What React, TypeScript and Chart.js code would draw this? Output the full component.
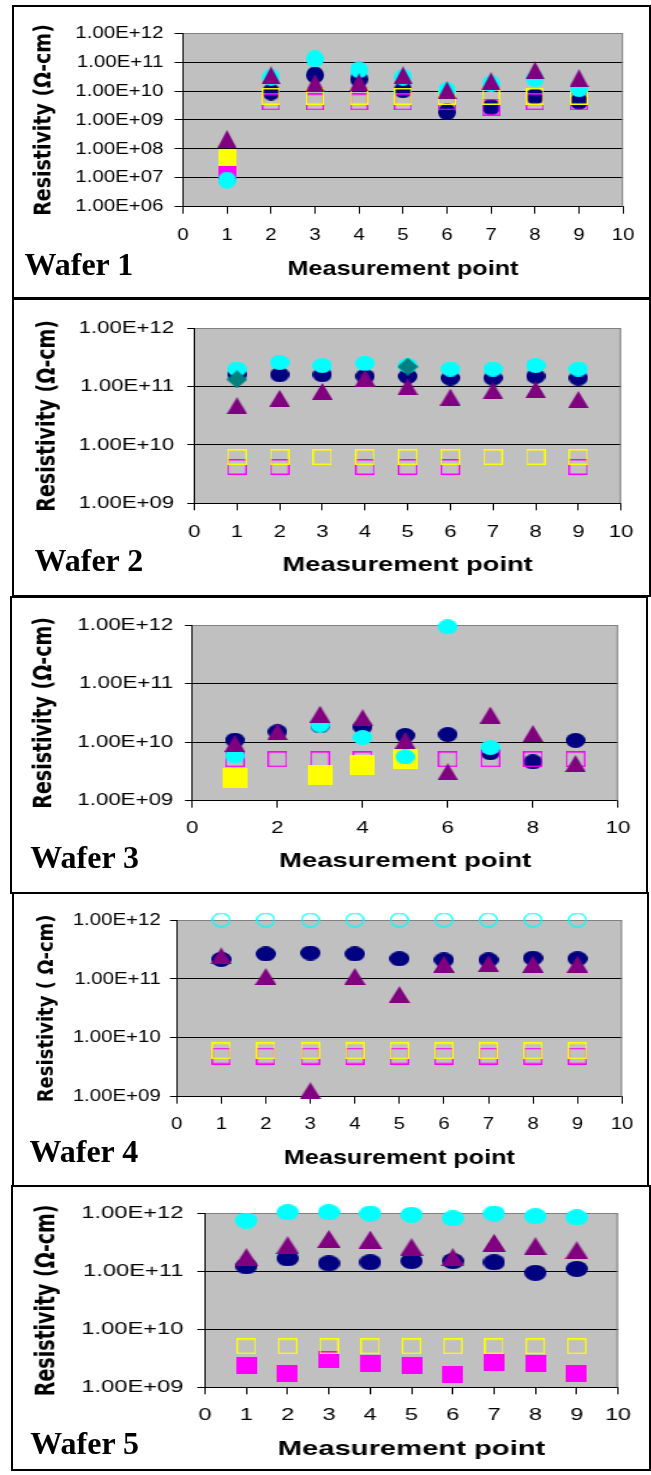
import React, { useEffect, useRef } from 'react';
import { Chart, registerables } from 'chart.js';

Chart.register(...registerables);

const PAGE_W = 651;
const PAGE_H = 1475;

// ---------- categories / ticks / texts ----------
const MEASUREMENT_POINTS = [1, 2, 3, 4, 5, 6, 7, 8, 9];
const X_TICKS_BY_1 = [0, 1, 2, 3, 4, 5, 6, 7, 8, 9, 10];
const X_TICKS_BY_2 = [0, 2, 4, 6, 8, 10];
const Y_TICKS_WAFER1 = [1e6, 1e7, 1e8, 1e9, 1e10, 1e11, 1e12];
const Y_TICKS_WAFER2_5 = [1e9, 1e10, 1e11, 1e12];
const X_TITLE = 'Measurement point';
const Y_TITLE = 'Resistivity (Ω-cm)';
const Y_TITLE_W4 = 'Resistivity ( Ω-cm)';

// ---------- Wafer 1 ----------
const W1_NAVY = [1.0e7, 9.3e9, 3.6e10, 2.6e10, 1.1e10, 1.9e9, 2.8e9, 6.5e9, 4.4e9];
const W1_MAGENTA = [1.9e7, 4.2e9, 4.2e9, 4.2e9, 4.2e9, 4.2e9, 2.8e9, 4.3e9, 4.2e9];
const W1_YELLOW = [4.9e7, 6.6e9, 6.6e9, 6.6e9, 6.6e9, 6.6e9, 6.6e9, 6.6e9, 6.6e9];
const W1_CYAN = [8.3e6, 3.0e10, 1.3e11, 5.4e10, 3.0e10, 1.05e10, 1.8e10, 2.7e10, 1.2e10];
const W1_PURPLE = [2.2e8, 3.5e10, 1.9e10, 2.0e10, 3.5e10, 1.07e10, 2.2e10, 5.2e10, 2.8e10];

// ---------- Wafer 2 ----------
const W2_NAVY = [1.6e11, 1.6e11, 1.6e11, 1.5e11, 1.5e11, 1.4e11, 1.4e11, 1.5e11, 1.4e11];
const W2_MAGENTA = [4.2e9, 4.2e9, null, 4.2e9, 4.2e9, 4.2e9, null, null, 4.2e9];
const W2_YELLOW = [6.2e9, 6.2e9, 6.2e9, 6.2e9, 6.2e9, 6.2e9, 6.2e9, 6.2e9, 6.2e9];
const W2_CYAN = [2.0e11, 2.6e11, 2.3e11, 2.5e11, 2.3e11, 2.0e11, 2.0e11, 2.3e11, 2.0e11];
const W2_PURPLE = [4.7e10, 6.3e10, 8.3e10, 1.4e11, 1.0e11, 6.6e10, 8.5e10, 8.9e10, 6.0e10];
const W2_TEAL = [1.33e11, null, null, null, 2.2e11, null, null, null, null];

// ---------- Wafer 3 ----------
const W3_NAVY = [1.08e10, 1.5e10, 1.9e10, 1.8e10, 1.3e10, 1.35e10, 6.6e9, 4.6e9, 1.07e10];
const W3_MAGENTA = [5.1e9, 5.1e9, 5.1e9, 5.1e9, 5.1e9, 5.1e9, 5.1e9, 5.1e9, 5.1e9];
const W3_YELLOW = [2.45e9, null, 2.8e9, 4.0e9, 5.2e9, null, null, null, null];
const W3_CYAN = [5.8e9, null, 1.95e10, 1.2e10, 5.6e9, 9.3e11, 8.1e9, null, null];
const W3_PURPLE = [9.5e9, 1.5e10, 3.0e10, 2.6e10, 1.07e10, 3.1e9, 2.9e10, 1.4e10, 4.3e9];

// ---------- Wafer 4 ----------
const W4_NAVY = [2.15e11, 2.65e11, 2.75e11, 2.65e11, 2.2e11, 2.1e11, 2.1e11, 2.25e11, 2.2e11];
const W4_MAGENTA = [4.9e9, 4.9e9, 4.9e9, 4.9e9, 4.9e9, 4.9e9, 4.9e9, 4.9e9, 4.9e9];
const W4_YELLOW = [6.0e9, 6.0e9, 6.0e9, 6.0e9, 6.0e9, 6.0e9, 6.0e9, 6.0e9, 6.0e9];
const W4_CYAN = [1e12, 1e12, 1e12, 1e12, 1e12, 1e12, 1e12, 1e12, 1e12];
const W4_PURPLE = [2.45e11, 1.1e11, 1.26e9, 1.1e11, 5.4e10, 1.77e11, 1.8e11, 1.77e11, 1.77e11];

// ---------- Wafer 5 ----------
const W5_NAVY = [1.22e11, 1.67e11, 1.37e11, 1.43e11, 1.5e11, 1.5e11, 1.43e11, 9.4e10, 1.1e11];
const W5_MAGENTA = [2.4e9, 1.73e9, 3.0e9, 2.6e9, 2.4e9, 1.66e9, 2.7e9, 2.6e9, 1.73e9];
const W5_YELLOW = [5.1e9, 5.1e9, 5.1e9, 5.1e9, 5.1e9, 5.1e9, 5.1e9, 5.1e9, 5.1e9];
const W5_CYAN = [7.5e11, 1.04e12, 1.04e12, 9.9e11, 9.4e11, 8.2e11, 9.9e11, 8.9e11, 8.5e11];
const W5_PURPLE = [1.75e11, 2.8e11, 3.6e11, 3.5e11, 2.6e11, 1.74e11, 3.1e11, 2.7e11, 2.3e11];

// ---------- styles ----------
const NAVY = '#000080';
const CYAN = '#00FFFF';
const PURPLE = '#800080';
const YELLOW = '#FFFF00';
const MAGENTA = '#FF00FF';
const TEAL = '#008080';
const SANS = "'Liberation Sans', Arial, sans-serif";

type Shape = 'circle' | 'ring' | 'triangle' | 'square' | 'box' | 'diamond';
type Series = { label: string; values: (number | null)[]; color: string; shape: Shape | Shape[]; w: number; h: number };
type Panel = {
  wafer: string; yTitle: string; yTitleSize: number; yTicks: number[]; xTicks: number[]; sx: number;
  box: { l: number; t: number; r: number; b: number };
  plot: { l: number; t: number; r: number; b: number };
  yTitleCx: number; yTickLen: number; yLabelRight: number; xLabelCy: number; xTitleCy: number;
  waferLeft: number; waferCy: number; series: Series[];
};

const FIRST_FILLED: Shape[] = ['square', 'box', 'box', 'box', 'box', 'box', 'box', 'box', 'box'];

const PANELS: Panel[] = [
  {
    wafer: 'Wafer 1', yTitle: Y_TITLE, yTitleSize: 19, yTicks: Y_TICKS_WAFER1, xTicks: X_TICKS_BY_1, sx: 1.2,
    box: { l: 12, t: 5, r: 651, b: 299 }, plot: { l: 183, t: 33.3, r: 623, b: 206.7 },
    yTitleCx: 45, yTickLen: 8.5, yLabelRight: 163.3, xLabelCy: 235, xTitleCy: 269, waferLeft: 24.5, waferCy: 264.5,
    series: [
      { label: 'navy', values: W1_NAVY, color: NAVY, shape: 'circle', w: 18, h: 16.5 },
      { label: 'magenta', values: W1_MAGENTA, color: MAGENTA, shape: FIRST_FILLED, w: 18, h: 16.5 },
      { label: 'yellow', values: W1_YELLOW, color: YELLOW, shape: FIRST_FILLED, w: 18, h: 16.5 },
      { label: 'cyan', values: W1_CYAN, color: CYAN, shape: 'circle', w: 18, h: 16.5 },
      { label: 'purple', values: W1_PURPLE, color: PURPLE, shape: 'triangle', w: 19, h: 17.5 },
    ],
  },
  {
    wafer: 'Wafer 2', yTitle: Y_TITLE, yTitleSize: 19, yTicks: Y_TICKS_WAFER2_5, xTicks: X_TICKS_BY_1, sx: 1.3,
    box: { l: 12, t: 298, r: 651, b: 597 }, plot: { l: 194.3, t: 328.3, r: 621, b: 503.3 },
    yTitleCx: 48, yTickLen: 7, yLabelRight: 174, xLabelCy: 532, xTitleCy: 565.5, waferLeft: 34.5, waferCy: 560.5,
    series: [
      { label: 'navy', values: W2_NAVY, color: NAVY, shape: 'circle', w: 20, h: 15 },
      { label: 'magenta', values: W2_MAGENTA, color: MAGENTA, shape: 'box', w: 20, h: 16 },
      { label: 'yellow', values: W2_YELLOW, color: YELLOW, shape: 'box', w: 20, h: 16 },
      { label: 'cyan', values: W2_CYAN, color: CYAN, shape: 'circle', w: 20, h: 15 },
      { label: 'purple', values: W2_PURPLE, color: PURPLE, shape: 'triangle', w: 21, h: 17 },
      { label: 'teal', values: W2_TEAL, color: TEAL, shape: 'diamond', w: 21, h: 18 },
    ],
  },
  {
    wafer: 'Wafer 3', yTitle: Y_TITLE, yTitleSize: 19, yTicks: Y_TICKS_WAFER2_5, xTicks: X_TICKS_BY_2, sx: 1.31,
    box: { l: 10, t: 596, r: 648, b: 894 }, plot: { l: 192.3, t: 625, r: 618, b: 800.7 },
    yTitleCx: 45, yTickLen: 7.3, yLabelRight: 173.3, xLabelCy: 828, xTitleCy: 861.7, waferLeft: 30.3, waferCy: 857,
    series: [
      { label: 'navy', values: W3_NAVY, color: NAVY, shape: 'circle', w: 20, h: 14.5 },
      { label: 'magenta', values: W3_MAGENTA, color: MAGENTA, shape: 'box', w: 19.5, h: 15.7 },
      { label: 'yellow', values: W3_YELLOW, color: YELLOW, shape: 'square', w: 25, h: 20 },
      { label: 'cyan', values: W3_CYAN, color: CYAN, shape: 'circle', w: 19.5, h: 14.5 },
      { label: 'purple', values: W3_PURPLE, color: PURPLE, shape: 'triangle', w: 21, h: 17 },
    ],
  },
  {
    wafer: 'Wafer 4', yTitle: Y_TITLE_W4, yTitleSize: 18, yTicks: Y_TICKS_WAFER2_5, xTicks: X_TICKS_BY_1, sx: 1.2,
    box: { l: 12, t: 892, r: 649, b: 1187 }, plot: { l: 176.7, t: 920, r: 622, b: 1096.7 },
    yTitleCx: 46.7, yTickLen: 6.7, yLabelRight: 160.7, xLabelCy: 1124, xTitleCy: 1158, waferLeft: 29.5, waferCy: 1151.5,
    series: [
      { label: 'navy', values: W4_NAVY, color: NAVY, shape: 'circle', w: 20, h: 15 },
      { label: 'magenta', values: W4_MAGENTA, color: MAGENTA, shape: 'box', w: 18.7, h: 16.7 },
      { label: 'yellow', values: W4_YELLOW, color: YELLOW, shape: 'box', w: 18.7, h: 16.7 },
      { label: 'cyan', values: W4_CYAN, color: CYAN, shape: 'ring', w: 19, h: 14.7 },
      { label: 'purple', values: W4_PURPLE, color: PURPLE, shape: 'triangle', w: 21, h: 17 },
    ],
  },
  {
    wafer: 'Wafer 5', yTitle: Y_TITLE, yTitleSize: 19, yTicks: Y_TICKS_WAFER2_5, xTicks: X_TICKS_BY_1, sx: 1.39,
    box: { l: 11, t: 1185, r: 651, b: 1471 }, plot: { l: 205, t: 1213.3, r: 618, b: 1387.3 },
    yTitleCx: 46.7, yTickLen: 7.7, yLabelRight: 183.3, xLabelCy: 1415, xTitleCy: 1449.5, waferLeft: 30.3, waferCy: 1442.7,
    series: [
      { label: 'navy', values: W5_NAVY, color: NAVY, shape: 'circle', w: 21.7, h: 15.7 },
      { label: 'magenta', values: W5_MAGENTA, color: MAGENTA, shape: 'square', w: 21, h: 17 },
      { label: 'yellow', values: W5_YELLOW, color: YELLOW, shape: 'box', w: 20, h: 16 },
      { label: 'cyan', values: W5_CYAN, color: CYAN, shape: 'circle', w: 21.7, h: 15.7 },
      { label: 'purple', values: W5_PURPLE, color: PURPLE, shape: 'triangle', w: 23, h: 17.7 },
    ],
  },
];

function makeMarker(shape: Shape, color: string, wPage: number, h: number, sx: number): HTMLCanvasElement {
  const c = document.createElement('canvas');
  const W = Math.max(2, Math.round(wPage / sx));
  const H = Math.max(2, Math.round(h));
  c.width = W;
  c.height = H;
  const g = c.getContext('2d')!;
  g.fillStyle = color;
  g.strokeStyle = color;
  const lw = 1.5;
  const lwx = 1.5 / sx;
  switch (shape) {
    case 'circle':
      g.beginPath();
      g.ellipse(W / 2, H / 2, W / 2, H / 2, 0, 0, Math.PI * 2);
      g.fill();
      break;
    case 'ring':
      g.lineWidth = 1.3;
      g.beginPath();
      g.ellipse(W / 2, H / 2, W / 2 - 0.7, H / 2 - 0.7, 0, 0, Math.PI * 2);
      g.stroke();
      break;
    case 'triangle':
      g.beginPath();
      g.moveTo(W / 2, 0);
      g.lineTo(W, H);
      g.lineTo(0, H);
      g.closePath();
      g.fill();
      break;
    case 'square':
      g.fillRect(0, 0, W, H);
      break;
    case 'box':
      g.fillRect(0, 0, W, lw);
      g.fillRect(0, H - lw, W, lw);
      g.fillRect(0, 0, lwx, H);
      g.fillRect(W - lwx, 0, lwx, H);
      break;
    case 'diamond':
      g.beginPath();
      g.moveTo(W / 2, 0);
      g.lineTo(W, H / 2);
      g.lineTo(W / 2, H);
      g.lineTo(0, H / 2);
      g.closePath();
      g.fill();
      break;
  }
  return c;
}

function fmtSci(v: number): string {
  const e = Math.round(Math.log10(v));
  const ee = e < 10 ? '0' + e : String(e);
  return '1.00E+' + ee;
}

const plotAreaPlugin = {
  id: 'plotArea',
  beforeDraw(chart: any) {
    const { ctx, chartArea: a } = chart;
    ctx.save();
    ctx.fillStyle = '#C0C0C0';
    ctx.fillRect(a.left, a.top, a.right - a.left, a.bottom - a.top);
    ctx.restore();
  },
  beforeDatasetsDraw(chart: any) {
    const { ctx, chartArea: a } = chart;
    ctx.save();
    ctx.strokeStyle = '#808080';
    ctx.lineWidth = 1;
    ctx.beginPath();
    ctx.moveTo(a.right - 0.5, a.top);
    ctx.lineTo(a.right - 0.5, a.bottom);
    ctx.stroke();
    ctx.restore();
  },
};

function WaferPanel({ cfg }: { cfg: Panel }) {
  const ref = useRef<HTMLCanvasElement>(null);
  const sx = cfg.sx;
  const Wc = Math.floor(PAGE_W / sx);
  const H = cfg.box.b - cfg.box.t;

  useEffect(() => {
    const canvas = ref.current!;
    const top = cfg.box.t;
    const yLH = cfg.yTitleSize * 1.2;
    const padLeft = cfg.yTitleCx / sx - yLH / 2;
    const yAxisW = cfg.plot.l / sx - padLeft;
    const padRight = Wc - cfg.plot.r / sx;
    const padTop = cfg.plot.t - top;
    const xTitleLH = 21 * 1.2;
    const xAxisBottom = cfg.xTitleCy + xTitleLH / 2;
    const xAxisH = xAxisBottom - cfg.plot.b;
    const padBottom = cfg.box.b - xAxisBottom;
    const xTL = 7;
    const xLabelPad = cfg.xLabelCy - cfg.plot.b - xTL - (17 * 1.2) / 2 + 0.8;
    const yTL = cfg.yTickLen / sx;
    const yLabelPad = (cfg.plot.l - cfg.yTickLen - cfg.yLabelRight) / sx;
    const yMin = cfg.yTicks[0];
    const yMax = cfg.yTicks[cfg.yTicks.length - 1];
    const n = cfg.series.length;

    const datasets = cfg.series.map((s, i) => ({
      label: s.label,
      data: MEASUREMENT_POINTS.map((x, j) => ({ x, y: s.values[j] })),
      pointStyle: MEASUREMENT_POINTS.map((_, j) =>
        makeMarker(Array.isArray(s.shape) ? s.shape[j] : s.shape, s.color, s.w, s.h, sx)
      ),
      pointRadius: 9,
      pointHoverRadius: 9,
      borderWidth: 0,
      backgroundColor: s.color,
      borderColor: s.color,
      showLine: false,
      clip: false as any,
      order: n - i,
    }));

    const chart = new Chart(canvas, {
      type: 'scatter',
      data: { datasets },
      options: {
        responsive: false,
        maintainAspectRatio: false,
        animation: false,
        devicePixelRatio: 1,
        events: [],
        layout: { padding: { left: padLeft, right: padRight, top: padTop, bottom: padBottom } },
        plugins: { legend: { display: false }, tooltip: { enabled: false }, title: { display: false } },
        scales: {
          x: {
            type: 'linear',
            position: 'bottom',
            min: 0,
            max: 10,
            afterBuildTicks: (s: any) => { s.ticks = cfg.xTicks.map((v) => ({ value: v })); },
            afterFit: (s: any) => { s.height = xAxisH; },
            ticks: {
              autoSkip: false, maxRotation: 0, minRotation: 0, padding: xLabelPad, color: '#000',
              font: { family: SANS, size: 17, weight: 'normal', lineHeight: 1.2 },
              callback: (v: any) => String(v),
            },
            grid: { drawOnChartArea: false, drawTicks: true, tickLength: xTL, tickColor: '#000', tickWidth: 1 },
            border: { display: true, color: '#000', width: 1 },
            title: {
              display: true, text: X_TITLE, color: '#000', padding: 0,
              font: { family: SANS, size: 21, weight: 'bold', lineHeight: 1.2 },
            },
          },
          y: {
            type: 'logarithmic',
            position: 'left',
            min: yMin,
            max: yMax,
            afterBuildTicks: (s: any) => { s.ticks = cfg.yTicks.map((v) => ({ value: v })); },
            afterFit: (s: any) => { s.width = yAxisW; },
            ticks: {
              autoSkip: false, padding: yLabelPad, color: '#000',
              font: { family: SANS, size: 17, weight: 'normal', lineHeight: 1.2 },
              callback: (v: any) => fmtSci(Number(v)),
            },
            grid: {
              drawOnChartArea: true,
              color: (c: any) => (c.tick && c.tick.value >= yMax ? '#808080' : '#000000'),
              lineWidth: 1,
              drawTicks: true,
              tickLength: yTL,
              tickColor: '#000',
              tickWidth: 1,
            },
            border: { display: true, color: '#000', width: 1 },
            title: {
              display: true, text: cfg.yTitle, color: '#000', padding: 0,
              font: { family: "'DejaVu Sans', sans-serif", size: cfg.yTitleSize, weight: 'bold', lineHeight: 1.2 },
            },
          },
        },
      } as any,
      plugins: [plotAreaPlugin],
    });
    return () => chart.destroy();
  }, [cfg]);

  return (
    <>
      <div
        style={{
          position: 'absolute', left: cfg.box.l, top: cfg.box.t, width: cfg.box.r - cfg.box.l,
          height: cfg.box.b - cfg.box.t, border: '2px solid #000', boxSizing: 'border-box', background: '#fff',
        }}
      />
      <div
        style={{
          position: 'absolute', left: 0, top: cfg.box.t, width: Wc, height: H,
          transform: `scaleX(${sx})`, transformOrigin: '0 0',
        }}
      >
        <canvas ref={ref} width={Wc} height={H} style={{ width: Wc, height: H, display: 'block' }} />
      </div>
      <div
        style={{
          position: 'absolute', left: cfg.waferLeft, top: cfg.waferCy - 16.2, font: "bold 32px 'Liberation Serif', 'Times New Roman', serif",
          lineHeight: '32px', whiteSpace: 'nowrap', color: '#000',
        }}
      >
        {cfg.wafer}
      </div>
    </>
  );
}

export default function App() {
  useEffect(() => {
    document.documentElement.style.overflow = 'hidden';
    document.body.style.overflow = 'hidden';
  }, []);
  return (
    <div style={{ position: 'absolute', left: 0, top: 0, width: PAGE_W, height: PAGE_H, overflow: 'hidden', background: '#fff' }}>
      {PANELS.map((p) => (
        <WaferPanel key={p.wafer} cfg={p} />
      ))}
    </div>
  );
}
